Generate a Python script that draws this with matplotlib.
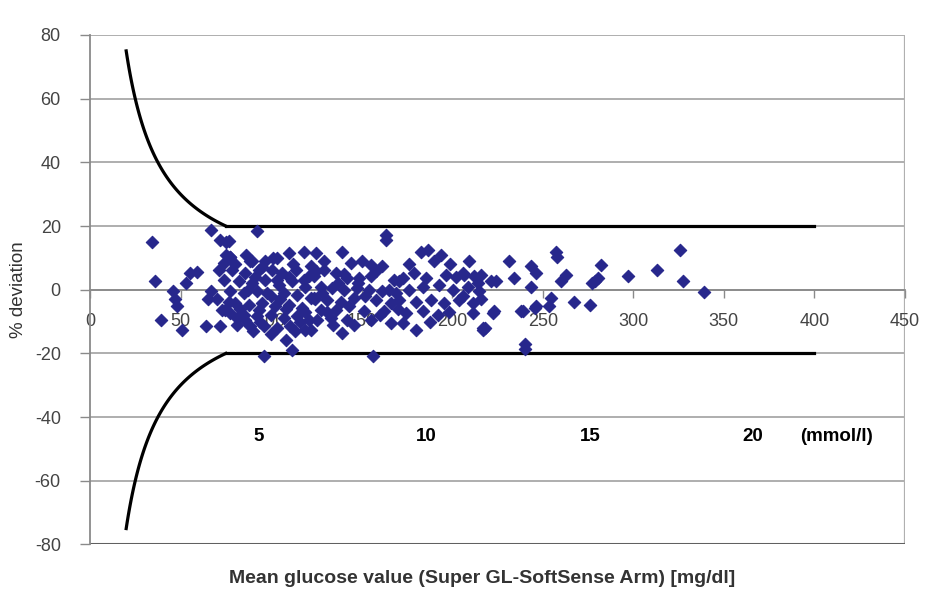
import numpy as np
import matplotlib.pyplot as plt

# scatter data: mean glucose [mg/dl] and % deviation
glucose = [
    34, 36, 46, 47, 48, 39, 51, 55, 59, 53, 64, 67, 65, 67, 72, 71, 74, 73, 72, 70, 74.7, 73.8, 75, 75, 77.5, 89.5,
    92.3, 76.6, 77.5, 88.6, 96.9, 103.4, 109.8, 118.1, 121.8, 78.4, 85.8, 93.2, 100.6, 106.1, 113.5, 120.9,
    82.1, 89.5, 96.9, 104.3, 111.7, 119, 77.5, 84.9, 92.3, 99.7, 107, 114.4, 121.8, 80.3, 87.7, 95, 102.4,
    109.8, 117.2, 77.5, 84.9, 92.3, 99.7, 107, 114.4, 120.9, 81.2, 88.6, 96, 103.4, 110.7, 119, 108, 111.7,
    96, 93.2, 85.8, 76.6,
    163.3, 163.3, 124.6, 139.3, 144, 155, 161.5, 168, 129.2, 135.6, 123.6, 142.1, 148.6, 155, 127.3, 133.8,
    140.3, 147.6, 154.1, 161.5, 168.9, 123.6, 131, 138.4, 145.8, 157.8, 166.1, 127.3, 135.6, 151.3, 162.4,
    125.5, 132.9, 142.1, 155, 121.8, 139.3, 156, 166.1, 170.7,
    182.7, 186.4, 190.1, 172.6, 179.1, 185.5, 196.6, 205.8, 212.3, 176.3, 183.7, 192.9, 200.3, 208.6, 215,
    170.7, 180, 188.3, 195.7, 204, 211.4, 174.4, 183.7, 192, 211.4, 172.6, 180, 216.9,
    216, 218, 223, 224, 231.6, 234, 243.6, 246, 243.6, 239, 246, 240, 240, 253.6, 254.7, 257.5, 258, 260,
    263, 267, 276, 277, 278.7, 280.5, 282.4, 297, 313, 325.7, 327.6, 339, 216, 221.5, 206.6, 222.4, 238,
    245.5, 217,
    80, 86, 91, 98, 101, 105, 112, 116, 90, 100, 113, 118, 83, 95, 108, 124, 129, 134, 137, 143, 150, 152,
    158, 146, 160, 128, 119, 103, 94, 87, 81, 110, 125, 131, 140, 148, 165, 170, 176, 188, 198, 202, 206,
    209, 214, 194, 199,
]
deviation = [
    15.1, 2.8, -0.5, -3, -5, -9.4, -12.5, 5.3, 5.7, 2.2, -11.5, -0.5, -3, 18.8, 15.7, 6.3, 3, -6.3, -11.5, -3, -6.3, 8.4, 11, 15, 10.4, 8.9,
    18.3, 15.2, 10.4, 8.9, 8.9, 9.9, 11.5, 12, 7.3, 6.3, 5.2, 6.3, 6.3, 5.2, 6.3, 4.2,
    2.6, 2.1, 3.1, 1.6, 2.6, 1.0, -0.5, -1.0, -0.5, -2.1, -1.0, -1.6, -2.6, -4.2, -4.7, -4.2, -5.2,
    -4.7, -5.8, -7.3, -7.8, -8.4, -7.8, -8.9, -8.4, -9.4, -11, -11.5, -11.5, -12, -11.5, -12.5, -15.7, -18.8,
    -20.9, -6.3, -9.4, -3.7,
    17.2, 15.7, 11.5, 12, 8.4, 7.8, 7.3, 3.1, 6.3, 5.2, 4.2, 3.6, 3.6, 4.2, 1.0, 0.5,
    0, 0.5, 0, -0.5, -1.0, -2.6, -3.1, -3.7, -2.6, -3.1, -4.2, -6.3, -6.3, -6.8, -6.8,
    -9.4, -8.9, -9.4, -9.4, -12.5, -13.5, -20.9, -10.4, 2.6,
    12, 12.5, 8.9, 3.6, 5.2, 3.6, 4.7, 5.2, 4.2, 0, 1.0, 1.6, 0, 1.0, -0.5,
    -3.1, -3.7, -3.1, -4.2, -3.1, -4.2, -7.3, -6.8, -7.8, -7.3, -10.4, -12.5, -12.5,
    -3, -11.9, -6.8, 2.6, 8.9, 3.7, 7.3, 5.2, 1.0, -6.8, -5.2, -17.2, -18.5, -5.2, -2.5, 12, 10.4, 2.6,
    4.7, -3.7, -4.7, 2.1, 2.6, 3.7, 7.8, 4.2, 6.3, 12.5, 2.6, -0.6, 4.7, 2.6, 4.7, -7.3, -6.8,
    -5.7, -12,
    8, 11, 4, -1, 10, -3, 8, -10, -13, -14, -13, 3, -6, 7, -6, -3, 9, -11, 2, -5, 9, -2,
    6, -11, -8, -1, -7, 3, -10, 0, -9, 4, 6, -7, 5, 2, 0, -6, 8, -10, -7, 4, -2,
    9, 2, 11, 8,
]

# accuracy limits: +/-15 mg/dl below 75 mg/dl, +/-20 % above
limit_start, limit_knee, limit_end = 20, 75, 400
abs_limit_mgdl, rel_limit_pct = 15, 20

mmol_labels = ["5", "10", "15", "20", "(mmol/l)"]
mmol_pos = [93, 185.5, 276, 366, 412]

plt.rcParams['font.family'] = ['Liberation Sans', 'DejaVu Sans']
plt.rcParams['axes.unicode_minus'] = False

fig = plt.figure(figsize=(9.39, 5.89), dpi=100)
ax = fig.add_axes([0.0958, 0.0756, 0.8680, 0.8650])

# grid
for yv in range(-80, 81, 20):
    ax.axhline(yv, color='#a8a8a8', lw=1.3, zorder=0)
ax.axvline(450, color='#b0b0b0', lw=1.6, zorder=0)
ax.axhline(-80, color='#606060', lw=2.2, zorder=1)

# limit lines
xc = np.linspace(limit_start, limit_knee, 100)
yc = abs_limit_mgdl / xc * 100
for sgn in (1, -1):
    ax.plot(xc, sgn * yc, color='black', lw=2.3, zorder=3)
    ax.plot([limit_knee, limit_end], [sgn * rel_limit_pct] * 2, color='black', lw=2.3, zorder=3)

ax.scatter(glucose, deviation, marker='D', s=40, color='#27278c', edgecolors='#27278c',
           linewidths=0.8, zorder=4)

for lab, xp in zip(mmol_labels, mmol_pos):
    ax.text(xp, -46, lab, ha='center', va='center', fontsize=13.5, fontweight='bold', color='black')

ax.set_xlim(0, 450)
ax.set_ylim(-80, 80)
ax.set_xticks(range(0, 451, 50))
ax.set_yticks(range(-80, 81, 20))

for s in ('top', 'right'):
    ax.spines[s].set_visible(False)
ax.spines['bottom'].set_position(('data', 0))
ax.spines['bottom'].set_color('#8a8a8a')
ax.spines['bottom'].set_linewidth(1.3)
ax.spines['bottom'].set_zorder(2)
ax.spines['left'].set_color('#8a8a8a')
ax.spines['left'].set_linewidth(1.3)

ax.tick_params(axis='x', direction='out', length=6, width=1, color='#8a8a8a',
               pad=11, labelsize=13, labelcolor='#444444')
ax.tick_params(axis='y', direction='out', length=7, width=1, color='#8a8a8a',
               pad=14, labelsize=13, labelcolor='#444444')

fig.text(0.02, 0.508, "% deviation", rotation=90, ha='center', va='center',
         fontsize=13.5, color='#333333')
fig.text(0.513, 0.018, "Mean glucose value (Super GL-SoftSense Arm) [mg/dl]",
         ha='center', va='center', fontsize=14, fontweight='bold', color='#333333')

fig.savefig("out.png", dpi=100)
